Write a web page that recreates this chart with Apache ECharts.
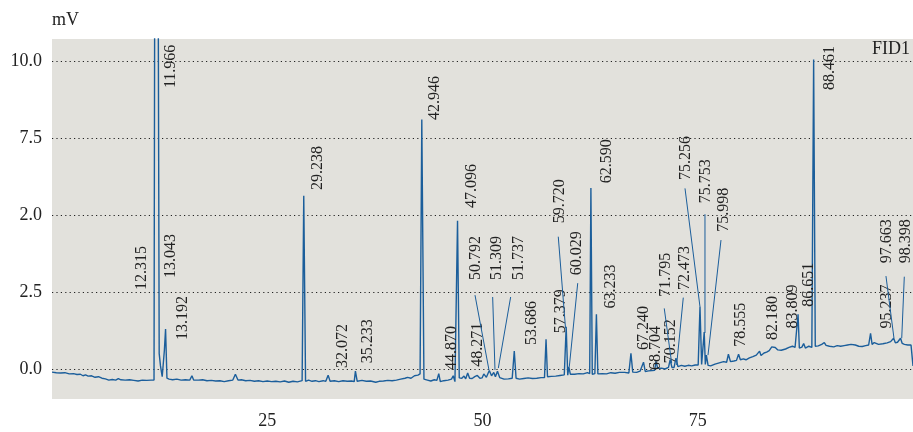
<!DOCTYPE html>
<html>
<head>
<meta charset="utf-8">
<script src="https://cdn.jsdelivr.net/npm/echarts@6/dist/echarts.min.js"></script>
<style>html,body{margin:0;padding:0;background:#fff}#chart{width:913px;height:432px}</style>
</head>
<body>
<div id="chart"></div>
<script>
// ---- data (retention time in min, signal in mV) ----
const times = [
 0.0,0.5,1.0,1.5,2.0,2.5,2.7,2.9,3.3,3.6,3.9,4.2,4.6,5.0,5.4,5.8,6.2,6.6,7.0,7.4,7.7,8.0,8.5,9.0,9.5,10.0,10.5,11.0,11.5,11.85,
 11.95,12.1,12.3,12.45,12.6,12.8,13.05,13.19,13.35,13.6,14.0,14.5,15.0,15.5,16.0,16.25,16.45,17.0,17.5,18.0,18.5,19.0,19.5,20.0,
 20.5,21.0,21.3,21.6,22.0,22.5,23.0,23.5,24.0,24.5,25.0,25.5,26.0,26.5,27.0,27.5,28.0,28.5,29.05,29.24,29.45,29.8,30.2,30.6,31.0,
 31.5,31.8,32.07,32.3,32.8,33.3,33.8,34.3,34.8,35.1,35.24,35.45,36.0,36.5,37.0,37.6,38.0,38.5,39.0,39.5,40.0,40.5,41.0,41.3,41.7,
 42.1,42.5,42.75,42.95,43.2,43.6,44.0,44.4,44.7,44.92,45.1,45.5,46.0,46.4,46.6,46.8,47.1,47.3,47.6,47.85,48.05,48.28,48.5,48.8,
 49.1,49.4,49.7,49.95,50.15,50.45,50.79,51.05,51.31,51.5,51.74,52.0,52.5,53.0,53.45,53.69,53.9,54.3,54.8,55.3,55.8,56.3,56.8,
 57.2,57.38,57.55,58.0,58.5,59.0,59.5,59.72,59.9,60.03,60.2,60.7,61.2,61.7,62.2,62.45,62.59,62.75,63.05,63.23,63.4,63.9,64.4,
 64.9,65.4,65.9,66.5,67.0,67.24,67.45,67.9,68.3,68.5,68.7,68.9,69.3,69.7,70.0,70.15,70.35,70.8,71.2,71.6,71.8,72.0,72.25,72.47,
 72.7,73.1,73.5,73.9,74.3,74.7,75.05,75.26,75.45,75.6,75.75,75.88,76.0,76.2,76.5,77.0,77.5,78.0,78.35,78.56,78.8,79.2,79.5,
 79.74,79.95,80.3,80.6,81.0,81.4,81.8,82.0,82.18,82.35,82.7,83.0,83.3,83.6,83.81,84.0,84.3,84.7,85.2,85.6,86.0,86.3,86.5,86.65,
 86.8,87.1,87.3,87.5,87.9,88.25,88.46,88.65,89.0,89.4,89.7,89.9,90.3,90.8,91.2,91.6,92.0,92.4,92.8,93.0,93.3,93.7,94.1,94.5,
 94.85,95.07,95.25,95.5,95.65,96.0,96.5,97.0,97.4,97.75,97.95,98.2,98.55,98.75,99.0,99.4,99.77,100.0
];
const signal = [
 -0.10,-0.12,-0.13,-0.12,-0.16,-0.15,-0.10,-0.18,-0.17,-0.22,-0.19,-0.23,-0.22,-0.27,-0.25,-0.30,-0.32,-0.36,-0.34,-0.36,-0.31,-0.35,-0.36,-0.35,-0.37,-0.39,-0.36,-0.37,-0.36,-0.36,
 16,11,16,0.5,0.1,-0.25,0.6,1.30,-0.30,-0.33,-0.35,-0.33,-0.36,-0.35,-0.36,-0.22,-0.36,-0.36,-0.35,-0.38,-0.37,-0.39,-0.38,-0.41,
 -0.38,-0.36,-0.17,-0.36,-0.35,-0.38,-0.37,-0.40,-0.38,-0.41,-0.39,-0.41,-0.40,-0.42,-0.39,-0.43,-0.40,-0.42,-0.38,5.63,-0.40,-0.36,-0.40,-0.38,-0.41,
 -0.38,-0.40,-0.20,-0.40,-0.38,-0.41,-0.38,-0.40,-0.39,-0.41,-0.07,-0.40,-0.37,-0.40,-0.39,-0.43,-0.40,-0.39,-0.37,-0.38,-0.36,-0.33,-0.30,-0.27,-0.30,
 -0.22,-0.20,-0.16,8.11,-0.33,-0.36,-0.39,-0.35,-0.37,-0.15,-0.41,-0.38,-0.36,-0.33,-0.22,-0.41,4.82,-0.29,-0.30,-0.23,-0.32,-0.13,-0.30,-0.31,
 -0.25,-0.21,-0.30,-0.29,-0.16,-0.27,-0.05,-0.22,-0.11,-0.25,-0.07,-0.28,-0.33,-0.32,-0.30,0.58,-0.30,-0.33,-0.31,-0.29,-0.31,-0.30,-0.28,
 -0.28,0.97,-0.25,-0.24,-0.23,-0.21,-0.19,1.37,-0.20,0.07,-0.17,-0.17,-0.15,-0.16,-0.12,-0.15,5.88,-0.17,-0.15,1.78,-0.16,-0.15,-0.16,
 -0.12,-0.14,-0.11,-0.11,-0.13,0.51,-0.10,-0.11,-0.07,-0.09,0.22,-0.08,-0.06,-0.05,-0.04,0.25,0.02,0.03,0.00,0.05,0.30,0.05,0.05,0.35,
 0.08,0.12,0.09,0.12,0.10,0.13,0.13,2.02,0.15,0.15,1.20,0.15,0.45,0.12,0.10,0.16,0.20,0.24,0.22,0.48,0.24,0.26,0.28,
 0.48,0.30,0.33,0.30,0.36,0.40,0.45,0.50,0.58,0.44,0.52,0.55,0.60,0.72,0.78,0.70,0.62,0.61,0.65,0.70,0.74,0.70,0.72,1.78,
 0.68,0.71,0.83,0.68,0.74,0.70,10.06,0.74,0.75,0.80,0.86,0.77,0.74,0.72,0.76,0.74,0.76,0.78,0.80,0.86,0.78,0.74,0.73,0.76,
 0.78,1.16,0.80,0.86,0.80,0.80,0.82,0.85,0.89,1.00,0.85,0.87,1.00,0.83,0.80,0.78,0.78,0.10
];

// peak annotations
const peakNames = ['11.966','12.315','13.043','13.192','29.238','32.072','35.233','42.946','44.870','47.096','48.271',
 '50.792','51.309','51.737','53.686','57.379','59.720','60.029','62.590','63.233','67.240','68.704','70.152','71.795',
 '72.473','75.256','75.753','75.998','78.555','82.180','83.809','86.651','88.461','95.237','97.663','98.398'];
// where each peak that gets a leader line actually sits [time, mV]
const peakApex = {
 '50.792':[50.75,-0.03], '51.309':[51.45,-0.03], '51.737':[51.84,0.03], '59.720':[59.64,1.33], '60.029':[60.08,0.07],
 '71.795':[71.97,0.19], '72.473':[72.55,0.13], '75.256':[75.26,2.02], '75.753':[75.84,1.17], '75.998':[76.19,0.45],
 '97.663':[97.79,1.0], '98.398':[98.69,1.0]
};

// tick labels as printed on the original
const yTickValues = [0, 2.5, 5, 7.5, 10];
const yTickLabels = ['0.0', '2.5', '2.0', '7.5', '10.0'];
const xTickLabels = {25: '25', 50: '50', 75: '75'};

// ---- layout (label anchor = start of rotated text, in axis units; leader start) ----
const labelAt = [[13.82,9.13],[10.45,2.57],[13.82,2.96],[15.21,0.94],[30.89,5.82],[33.80,0.03],[36.62,0.19],[44.48,8.09],
 [46.49,-0.03],[48.81,5.23],[49.40,0.07],[49.21,2.89],[51.65,2.89],[54.24,2.89],[55.78,0.78],[59.08,1.16],[59.0,4.74],
 [60.97,3.05],[64.42,6.04],[64.89,1.97],[68.76,0.62],[70.12,-0.03],[71.86,0.19],[71.28,2.35],[73.52,2.57],[73.60,6.14],
 [75.96,5.39],[78.05,4.46],[79.99,0.72],[83.77,0.94],[86.03,1.32],[87.92,2.02],[90.36,9.07],[97.01,1.32],[96.94,3.44],[99.19,3.44]];
const leaderFrom = {
 '50.792':[49.13,2.40], '51.309':[51.18,2.34], '51.737':[53.27,2.34], '59.720':[58.80,4.30], '60.029':[61.06,2.79],
 '71.795':[71.11,1.97], '72.473':[73.32,2.32], '75.256':[73.52,5.87], '75.753':[75.84,5.03], '75.998':[77.70,4.19],
 '97.663':[96.86,3.02], '98.398':[98.99,3.0]
};

const BLUE = '#1b5e9b';
const FONT = '"Liberation Serif", "DejaVu Serif", serif';

const chart = echarts.init(document.getElementById('chart'));
chart.setOption({
  animation: false,
  backgroundColor: '#ffffff',
  grid: { left: 52, right: 0, top: 39, bottom: 33, show: true, backgroundColor: '#e2e1dc', borderWidth: 0 },
  xAxis: {
    type: 'value', min: 0, max: 100, interval: 25,
    axisLine: { show: false }, axisTick: { show: false }, splitLine: { show: false },
    axisLabel: {
      margin: 13, color: '#222', fontFamily: FONT, fontSize: 18,
      showMinLabel: false, showMaxLabel: false,
      formatter: v => xTickLabels[v] || ''
    }
  },
  yAxis: {
    type: 'value', min: -0.975, max: 10.725,
    axisLine: { show: false }, axisTick: { show: false }, splitLine: { show: false },
    axisLabel: { show: false }
  },
  graphic: [
    { type: 'text', left: 52, top: 11, style: { text: 'mV', font: '18px ' + FONT, fill: '#222' } },
    { type: 'text', right: 3, top: 40, style: { text: 'FID1', font: '18px ' + FONT, fill: '#222' } }
  ],
  series: [
    {
      type: 'line',
      name: 'FID1',
      data: times.map((t, i) => [t, signal[i]]),
      showSymbol: false, symbol: 'none',
      lineStyle: { color: BLUE, width: 1.4 },
      itemStyle: { color: BLUE },
      z: 3,
      clip: true,
      markLine: {
        silent: true, symbol: ['none', 'none'], z: 1,
        lineStyle: { color: '#222', width: 1.2, type: [1.2, 3.2] },
        label: {
          show: true, position: 'start', distance: 10, color: '#222', fontFamily: FONT, fontSize: 18,
          formatter: p => yTickLabels[p.dataIndex]
        },
        data: yTickValues.map(v => ({ yAxis: v }))
      }
    },
    {
      type: 'custom',
      z: 4,
      clip: false,
      data: peakNames.map((n, i) => [i]),
      encode: { x: 0 },
      renderItem: function (params, api) {
        const i = params.dataIndex;
        const name = peakNames[i];
        const p = api.coord(labelAt[i]);
        const children = [{
          type: 'text', x: p[0], y: p[1], rotation: Math.PI / 2,
          style: { text: name, align: 'left', verticalAlign: 'middle', textAlign: 'left', textVerticalAlign: 'middle',
                   font: '16px ' + FONT, fill: '#222' }
        }];
        if (leaderFrom[name]) {
          const a = api.coord(leaderFrom[name]);
          const b = api.coord(peakApex[name]);
          children.push({ type: 'line', shape: { x1: a[0], y1: a[1], x2: b[0], y2: b[1] },
                          style: { stroke: BLUE, lineWidth: 1 } });
        }
        return { type: 'group', children: children };
      }
    }
  ]
});
</script>
</body>
</html>
